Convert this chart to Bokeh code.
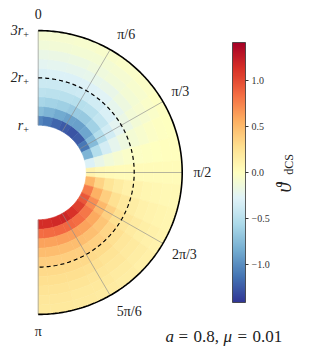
import numpy as np
from bokeh.plotting import figure
from bokeh.models import ColumnDataSource, LinearColorMapper, ColorBar, FixedTicker, Range1d
from bokeh.transform import linear_cmap
from bokeh.core.properties import value
from bokeh.embed import file_html
from bokeh.resources import INLINE

# ---------------- data ----------------
theta_deg = [0, 10, 20, 30, 40, 50, 60, 70, 80, 90, 100, 110, 120, 130, 140, 150, 160, 170, 180]
r_centers = [1.1, 1.3, 1.5, 1.7, 1.9, 2.1, 2.3, 2.5, 2.7, 2.9]   # in units of r_+
# field values: one row per theta, one column per r
row_000 = [-1.05, -0.75, -0.58, -0.47, -0.39, -0.32, -0.25, -0.19, -0.13, -0.08]
row_010 = [-1.12, -0.80, -0.60, -0.48, -0.39, -0.31, -0.24, -0.18, -0.12, -0.08]
row_020 = [-1.20, -0.86, -0.63, -0.49, -0.39, -0.30, -0.23, -0.17, -0.11, -0.07]
row_030 = [-1.25, -0.90, -0.66, -0.50, -0.38, -0.29, -0.22, -0.15, -0.10, -0.06]
row_040 = [-1.28, -0.92, -0.67, -0.49, -0.36, -0.27, -0.20, -0.13, -0.09, -0.05]
row_050 = [-1.25, -0.88, -0.62, -0.44, -0.32, -0.23, -0.16, -0.11, -0.07, -0.04]
row_060 = [-1.12, -0.76, -0.52, -0.36, -0.25, -0.18, -0.12, -0.08, -0.05, -0.02]
row_070 = [-0.80, -0.52, -0.35, -0.23, -0.16, -0.11, -0.07, -0.04, -0.02, -0.01]
row_080 = [-0.30, -0.20, -0.13, -0.08, -0.05, -0.03, -0.02, -0.01, 0.00, 0.00]
row_090 = [0.10, 0.06, 0.05, 0.04, 0.04, 0.04, 0.04, 0.04, 0.04, 0.04]
row_100 = [0.52, 0.35, 0.24, 0.17, 0.13, 0.10, 0.08, 0.07, 0.06, 0.06]
row_110 = [0.78, 0.55, 0.38, 0.27, 0.20, 0.16, 0.13, 0.11, 0.09, 0.08]
row_120 = [0.95, 0.70, 0.50, 0.37, 0.28, 0.22, 0.18, 0.15, 0.13, 0.11]
row_130 = [1.06, 0.80, 0.58, 0.44, 0.34, 0.27, 0.22, 0.19, 0.16, 0.14]
row_140 = [1.13, 0.85, 0.62, 0.47, 0.37, 0.30, 0.25, 0.22, 0.18, 0.16]
row_150 = [1.18, 0.87, 0.63, 0.48, 0.38, 0.32, 0.27, 0.23, 0.20, 0.18]
row_160 = [1.17, 0.87, 0.63, 0.48, 0.38, 0.32, 0.28, 0.24, 0.21, 0.19]
row_170 = [1.15, 0.86, 0.62, 0.48, 0.38, 0.32, 0.28, 0.25, 0.22, 0.20]
row_180 = [1.15, 0.85, 0.62, 0.48, 0.38, 0.32, 0.28, 0.25, 0.22, 0.20]
field = [row_000, row_010, row_020, row_030, row_040, row_050, row_060, row_070, row_080, row_090,
         row_100, row_110, row_120, row_130, row_140, row_150, row_160, row_170, row_180]

vmin, vmax = -1.42, 1.42
cbar_ticks = [-1.0, -0.5, 0.0, 0.5, 1.0]
cbar_labels = ["\u22121.0", "\u22120.5", "0.0", "0.5", "1.0"]
angle_ticks_deg = [0, 30, 60, 90, 120, 150, 180]
angle_labels = ["0", "\u03c0/6", "\u03c0/3", "\u03c0/2", "2\u03c0/3", "5\u03c0/6", "\u03c0"]
radial_ticks = [3, 2, 1]
radial_labels = ["3r", "2r", "r"]
r_in, r_dash, r_out = 1.0, 2.0, 3.0

# ---------------- layout ----------------
W, H = 309, 348
CX, CY = 37.7, 172.0      # polar centre in pixels (y from top)
SX, SY = 48.0, 47.3       # pixels per r_+ unit

def pix(wx, wy):
    """pixel -> data coordinates"""
    return (wx - CX) / SX, (CY - wy) / SY

p = figure(width=W, height=H, output_backend="svg", toolbar_location=None,
           x_range=Range1d(-CX / SX, (W - CX) / SX), y_range=Range1d(-(H - CY) / SY, CY / SY),
           x_axis_type=None, y_axis_type=None, min_border=0, outline_line_color=None,
           background_fill_color="white", border_fill_color="white")
p.grid.visible = False

# colour palette RdYlBu_r
anchors = ["#313695", "#4575b4", "#74add1", "#abd9e9", "#e0f3f8", "#ffffbf",
           "#fee090", "#fdae61", "#f46d43", "#d73027", "#a50026"]
arr = np.array([[int(c[i:i + 2], 16) for i in (1, 3, 5)] for c in anchors], dtype=float)
pos = np.linspace(0, 1, len(anchors))
t = np.linspace(0, 1, 256)
palette = ["#%02x%02x%02x" % tuple(int(round(np.interp(tt, pos, arr[:, k]))) for k in range(3)) for tt in t]
mapper = LinearColorMapper(palette=palette, low=vmin, high=vmax)

# field cells
dth = 5.0
dr = 0.1
xs, ys, vals = [], [], []
for i, th in enumerate(theta_deg):
    a = np.radians(np.linspace(max(th - dth, 0), min(th + dth, 180), 6))
    for j, rc in enumerate(r_centers):
        r0, r1 = rc - dr, rc + dr
        xs.append(list(np.concatenate([r0 * np.sin(a), r1 * np.sin(a[::-1])])))
        ys.append(list(np.concatenate([r0 * np.cos(a), r1 * np.cos(a[::-1])])))
        vals.append(field[i][j])
src = ColumnDataSource(dict(xs=xs, ys=ys, v=vals))
cm = linear_cmap("v", palette, vmin, vmax)
p.patches("xs", "ys", source=src, fill_color=cm, line_color=cm, line_width=0.6)

# radial grid lines
gx, gy = [], []
for th in angle_ticks_deg:
    a = np.radians(th)
    gx.append([r_in * np.sin(a), r_out * np.sin(a)])
    gy.append([r_in * np.cos(a), r_out * np.cos(a)])
p.multi_line(gx, gy, line_color="#8c8c8c", line_width=0.8, line_alpha=0.8)

# dashed circle and outer boundary
aa = np.radians(np.linspace(0, 180, 241))
p.line(r_dash * np.sin(aa), r_dash * np.cos(aa), line_color="black", line_width=1.2, line_dash="4 3")
p.line(r_out * np.sin(aa), r_out * np.cos(aa), line_color="black", line_width=1.6)

serif = value("Liberation Serif")

# angle labels
lab_r = 3.42
lx = [lab_r * np.sin(np.radians(a)) for a in angle_ticks_deg]
ly = [lab_r * np.cos(np.radians(a)) for a in angle_ticks_deg]
lxo = [0, 6, 0, 0, 4, 9, 0]
lyo = [3, 2, 0, 0, 1, -1, -3]
p.text(x=lx, y=ly, text=angle_labels, x_offset=lxo, y_offset=lyo, text_font=serif,
       text_font_size="14px", text_align="center", text_baseline="middle", text_color="#222222")

# radial labels  (r_+ with subscript)
ry = [float(r) for r in radial_ticks]
p.text(x=[0.0] * 3, y=ry, text=radial_labels, x_offset=-15, y_offset=0, text_font=serif,
       text_font_style="italic", text_font_size="14px", text_align="right",
       text_baseline="middle", text_color="#222222")
p.text(x=[0.0] * 3, y=ry, text=["+"] * 3, x_offset=-15, y_offset=4, text_font=serif,
       text_font_size="10px", text_align="left", text_baseline="middle", text_color="#222222")

# colour bar
cb = ColorBar(color_mapper=mapper, width=13, height=260, location=(232, 46), padding=0,
              ticker=FixedTicker(ticks=cbar_ticks),
              major_label_overrides={k: v for k, v in zip(cbar_ticks, cbar_labels)},
              major_label_text_font="Liberation Serif", major_label_text_font_size="10px",
              major_label_text_color="#333333", major_tick_line_color="#333333",
              major_tick_in=0, major_tick_out=3, label_standoff=3,
              bar_line_color="#333333", bar_line_width=0.8,
              background_fill_alpha=0, border_line_color=None)
p.add_layout(cb, "center")

# colour bar label  ϑ_dCS (rotated)
bx, by = pix(283, 187)
sx_, sy_ = pix(288, 164)
p.text(x=[bx], y=[by], text=["\u03d1"], angle=np.pi / 2, text_font=serif, text_font_style="italic",
       text_font_size="20px", text_align="center", text_baseline="middle", text_color="#222222")
p.text(x=[sx_], y=[sy_], text=["dCS"], angle=np.pi / 2, text_font=serif,
       text_font_size="12px", text_align="center", text_baseline="middle", text_color="#222222")

# parameter annotation  a = 0.8, μ = 0.01
parts = ["a", "=", "0.8,", "\u03bc", "=", "0.01"]
part_x = [165, 178, 193, 223, 237, 252]
styles = ["italic", "normal", "normal", "italic", "normal", "normal"]
px_ = [pix(wx, 336)[0] for wx in part_x]
py_ = [pix(0, 336)[1]] * len(parts)
for xx, yy, tt, st in zip(px_, py_, parts, styles):
    p.text(x=[xx], y=[yy], text=[tt], text_font=serif, text_font_style=st,
           text_font_size="17px", text_align="left", text_baseline="alphabetic", text_color="#222222")

open("out.html", "w").write(file_html(p, INLINE))
